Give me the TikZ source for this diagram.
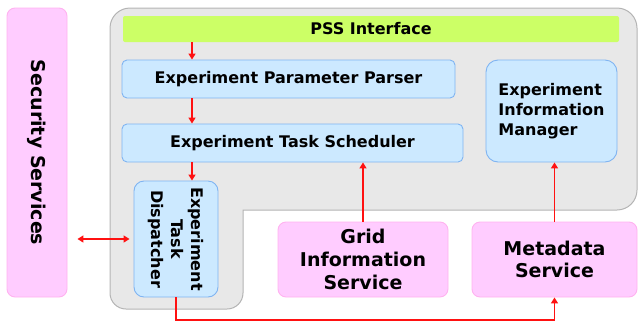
\documentclass[tikz,border=0pt]{standalone}
\usepackage{fontspec}
\setmainfont{DejaVu Sans}
\usetikzlibrary{arrows.meta}
\definecolor{grayfill}{HTML}{E8E8E8}
\definecolor{grayline}{HTML}{B4B4B4}
\definecolor{pssgreen}{HTML}{CCFF66}
\definecolor{bluefill}{HTML}{CCE9FF}
\definecolor{blueline}{HTML}{7FB4F2}
\definecolor{pinkfill}{HTML}{FFCCFF}
\definecolor{pinkline}{HTML}{FFB2F0}
\definecolor{arrred}{HTML}{FF1111}
\tikzset{
  box/.style={inner sep=0pt, font=\bfseries\fontsize{16}{20}\selectfont, align=center},
  bluebox/.style={box, fill=bluefill, draw=blueline, line width=0.9pt, rounded corners=5pt},
  pinkbox/.style={box, fill=pinkfill, draw=pinkline, line width=0.9pt, rounded corners=8pt, font=\bfseries\fontsize{19}{22.7}\selectfont},
  conn/.style={draw=arrred, line width=1.6pt, -{Triangle[length=6pt,width=7pt]}},
}
\begin{document}
\begin{tikzpicture}[x=1pt,y=-1pt]
\useasboundingbox (0,0) rectangle (638,322);
% container
\draw[fill=grayfill, draw=grayline, line width=1pt, rounded corners=20pt]
  (110,150) -- (110,8) -- (637,8) -- (637,210) [sharp corners] -- (243,210) [rounded corners=16pt] -- (243,309) -- (110,309) -- cycle;
% nodes
\node[box, fill=pssgreen, minimum width=496pt, minimum height=26pt, rounded corners=2pt] (pss) at (371,29) {PSS Interface};
\node[bluebox, minimum width=333pt, minimum height=38pt] (epp) at (288.5,79) {Experiment Parameter Parser};
\node[bluebox, minimum width=341pt, minimum height=38pt] (ets) at (292.5,143) {Experiment Task Scheduler};
\node[bluebox, minimum width=131pt, minimum height=102pt, rounded corners=12pt, align=left] (eim) at (551.5,111) {Experiment\\Information\\Manager};
\node[bluebox, minimum width=84pt, minimum height=116pt, rounded corners=10pt] (etd) at (176,239) {};
\node[box, rotate=-90] (etdt) at (etd.center) {Experiment\\Task\\Dispatcher};
\node[pinkbox, minimum width=60pt, minimum height=289pt] (sec) at (37,152.5) {};
\node[box, font=\bfseries\fontsize{19}{22.7}\selectfont, rotate=-90] (sect) at (sec.center) {Security Services};
\node[pinkbox, minimum width=170pt, minimum height=75pt] (gis) at (363,259.5) {Grid\\Information\\Service};
\node[pinkbox, minimum width=165pt, minimum height=75pt] (md) at (554.5,259.5) {Metadata\\Service};
% connectors
\coordinate (col) at (192,0);
\coordinate (row) at (0,239);
\coordinate (bot) at (0,320);
\draw[conn] (pss.south -| col) -- (epp.north -| col);
\draw[conn] (epp.south -| col) -- (ets.north -| col);
\draw[conn] (ets.south -| col) -- (etd.north -| col);
\draw[conn, {Triangle[length=6pt,width=7pt]}-{Triangle[length=6pt,width=7pt]}, shorten <=10pt, shorten >=4pt] (sec.east |- row) -- (etd.west |- row);
\draw[conn] (gis.north) -- (ets.south -| gis.north);
\draw[conn] (md.north) -- (eim.south -| md.north);
\draw[conn] (etd.south) -- (etd.south |- bot) -| (md.south);
\end{tikzpicture}
\end{document}
